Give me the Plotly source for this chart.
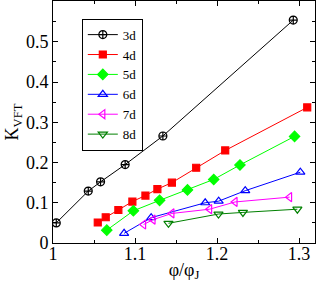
import plotly.graph_objects as go

x3 = [1.004, 1.043, 1.058, 1.088, 1.134, 1.293]
y3 = [0.050, 0.129, 0.152, 0.195, 0.266, 0.554]
x4 = [1.0546, 1.0643, 1.0797, 1.0968, 1.1127, 1.1273, 1.145, 1.1746, 1.21, 1.310]
y4 = [0.051, 0.064, 0.082, 0.103, 0.118, 0.134, 0.150, 0.187, 0.230, 0.337]
x5 = [1.0656, 1.098, 1.130, 1.164, 1.196, 1.228, 1.2946]
y5 = [0.032, 0.080, 0.106, 0.132, 0.158, 0.194, 0.265]
x6 = [1.0867, 1.1197, 1.1856, 1.202, 1.2344, 1.3016]
y6 = [0.024, 0.063, 0.100, 0.104, 0.130, 0.176]
x7 = [1.1105, 1.122, 1.145, 1.191, 1.222, 1.2885]
y7 = [0.046, 0.058, 0.0735, 0.084, 0.102, 0.114]
x8 = [1.1408, 1.2018, 1.2316, 1.298]
y8 = [0.049, 0.072, 0.076, 0.084]

series = [
    ("3d", x3, y3, "black", "circle-cross-open", 8),
    ("4d", x4, y4, "red", "square", 7),
    ("5d", x5, y5, "#00ff00", "diamond", 8),
    ("6d", x6, y6, "blue", "triangle-up-open", 8),
    ("7d", x7, y7, "#ff00ff", "triangle-left-open", 8),
    ("8d", x8, y8, "#008000", "triangle-down-open", 8),
]

fig = go.Figure()
for name, xs, ys, col, sym, sz in series:
    fig.add_trace(go.Scatter(
        x=xs, y=ys, name=name, mode="lines+markers",
        line=dict(color=col, width=1),
        marker=dict(symbol=sym, size=sz, color=col, line=dict(color=col, width=1.2)),
    ))

font = "Liberation Serif, Times New Roman, serif"
fig.update_layout(
    width=316, height=285,
    margin=dict(l=53, r=1, t=1, b=42),
    paper_bgcolor="white", plot_bgcolor="white",
    font=dict(family=font, size=18, color="black"),
    showlegend=True,
    legend=dict(x=0.11, y=0.927, xanchor="left", yanchor="top",
                bordercolor="black", borderwidth=1, bgcolor="white",
                font=dict(family=font, size=13), tracegroupgap=0,
                itemwidth=30),
)
fig.update_xaxes(
    range=[1.0, 1.3195], tickvals=[1, 1.1, 1.2, 1.3], ticktext=["1", "1.1", "1.2", "1.3"],
    ticks="inside", ticklen=5, tickcolor="black", showline=True, linecolor="black",
    linewidth=1, mirror="ticks", showgrid=False, zeroline=False, automargin=False,
    tickfont=dict(family=font, size=18), ticklabelstandoff=-6,
    minor=dict(dtick=0.05, tick0=1.0, ticks="inside", ticklen=3, tickcolor="black", showgrid=False),
    title=dict(text="φ/φ<sub>J</sub>", font=dict(family=font, size=18), standoff=0),
)
fig.update_yaxes(
    range=[0, 0.6015], tickvals=[0, 0.1, 0.2, 0.3, 0.4, 0.5],
    ticktext=["0", "0.1", "0.2", "0.3", "0.4", "0.5"],
    ticks="inside", ticklen=5, tickcolor="black", showline=True, linecolor="black",
    linewidth=1, mirror="ticks", showgrid=False, zeroline=False, automargin=False,
    tickfont=dict(family=font, size=18),
    minor=dict(dtick=0.05, tick0=0, ticks="inside", ticklen=3, tickcolor="black", showgrid=False),
    title=dict(text="K<sub>VFT</sub>", font=dict(family=font, size=18), standoff=2),
)
fig.write_html("out.html", config={"displayModeBar": False},
               post_script="document.body.style.margin='0';document.body.style.padding='0';")
